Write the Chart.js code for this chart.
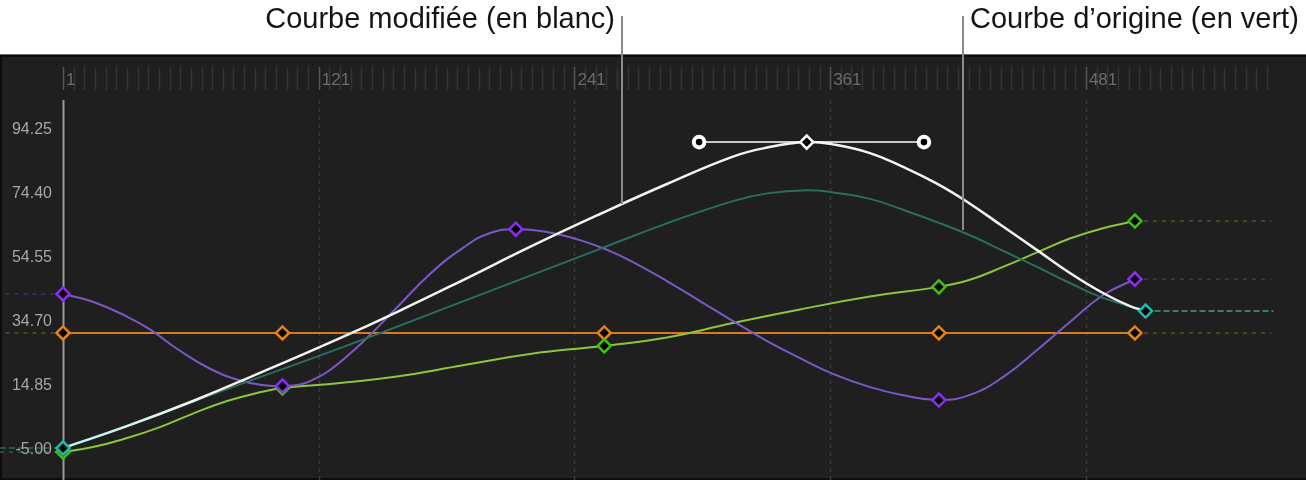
<!DOCTYPE html>
<html>
<head>
<meta charset="utf-8">
<script src="https://cdn.jsdelivr.net/npm/chart.js@4"></script>
<style>
  html, body { margin: 0; padding: 0; background: #fff; }
  canvas { display: block; }
</style>
</head>
<body>
<canvas id="curveChart" width="1306" height="483"></canvas>
<script>
// value axis labels and ruler labels (frames)
const yTickValues = [94.25, 74.40, 54.55, 34.70, 14.85, -5.00];
const rulerLabels = [1, 121, 241, 361, 481];

// keyframes (frame / value)
const orangeKeyFrames = [1, 104, 255, 412, 504];
const orangeKeyValues = [31.3, 31.3, 31.3, 31.3, 31.3];
const purpleKeyFrames = [1, 104, 213.5, 412, 504];
const purpleKeyValues = [43.4, 14.85, 63.5, 10.5, 48.0];
const greenKeyFrames = [1, 104, 255, 412, 504];
const greenKeyValues = [-5.6, 14.2, 27.3, 45.6, 66.0];
const cyanKeyFrames = [1, 509];
const cyanKeyValues = [-4.4, 38.1];
const whiteKeyFrames = [350];
const whiteKeyValues = [90.5];
const handleFrames = [299.5, 405];
const handleValues = [90.5, 90.5];

// curves
const whiteFrames = [1, 31, 62, 93.4, 131, 157.7, 188.7, 220.1, 253, 284.4, 315.4, 331.4, 350,
  362.3, 379.7, 395.2, 411.1, 426.6, 442.1, 458.1, 473.5, 489, 501.7, 509];
const whiteValues = [-4.4, 2.4, 10.2, 18.9, 29.7, 37.8, 47.7, 58.0, 68.2, 77.5, 86.0, 88.8, 90.5,
  89.8, 87.1, 82.8, 77.6, 71.4, 64.3, 57.0, 49.9, 43.7, 39.6, 38.1];

const tealFrames = [1, 46.5, 78, 131, 188.7, 253, 284.4, 315.4, 331.4, 350,
  362.3, 379.7, 395.2, 411.1, 426.6, 442.1, 458.1, 473.5, 489, 509];
const tealValues = [-4.4, 6.2, 13.9, 26.6, 41.1, 57.4, 65.3, 72.2, 74.6, 75.6,
  74.9, 72.9, 69.5, 65.7, 61.6, 56.8, 51.8, 46.8, 42.2, 38.1];

const purpleFrames = [1, 15, 31, 41.8, 54.5, 70, 85.5, 96.7, 104, 112.2, 118.3, 126.3, 141.8, 157.7,
  173.2, 188.7, 201.4, 213.5, 228.1, 243.6, 257.7, 268.5, 284.4, 299.9, 315.4, 331.4, 346.8, 362.3,
  379.7, 395.2, 412, 426.6, 442.1, 458.1, 473.5, 489, 504];
const purpleValues = [43.4, 41.0, 36.4, 32.4, 26.4, 20.2, 16.3, 15.0, 14.85, 15.3, 16.8, 19.8, 28.6, 39.2,
  49.6, 57.7, 62.3, 63.5, 62.6, 60.1, 56.7, 53.3, 47.4, 41.2, 35.0, 28.8, 23.5, 18.6,
  14.5, 12.0, 10.5, 12.1, 17.6, 26.0, 34.7, 43.0, 48.0];

const greenFrames = [1, 15, 31, 46.5, 62, 78, 93.4, 104, 131, 157.7, 188.7, 220.1, 255, 284.4,
  315.4, 346.8, 379.7, 412, 426.6, 442.1, 458.1, 473.5, 489, 504];
const greenValues = [-5.6, -4.1, -1.3, 2.1, 6.3, 10.2, 12.9, 14.2, 15.8, 17.8, 21.3, 24.8, 27.3, 29.9,
  34.4, 38.6, 42.6, 45.6, 47.8, 51.8, 56.3, 60.6, 63.8, 66.0];

// hold lines before the first / after the last keyframe
const holdStart = -26;
const holdEnd = 568;

// layout constants of the editor view
const FRAME1_PX = 63;
const PX_PER_FRAME = 2.131;
const CANVAS_W = 1306;
const PLOT_TOP = 100, PLOT_BOTTOM = 480;
const VAL_AT_450 = -5, PX_PER_UNIT = 3.224;

const xMin = 1 - FRAME1_PX / PX_PER_FRAME;
const xMax = 1 + (CANVAS_W - FRAME1_PX) / PX_PER_FRAME;
const yMax = VAL_AT_450 + (450 - PLOT_TOP) / PX_PER_UNIT;
const yMin = VAL_AT_450 - (PLOT_BOTTOM - 450) / PX_PER_UNIT;

function pts(frames, values) {
  return frames.map((f, i) => ({ x: f, y: values[i] }));
}

function curve(frames, values, color, width, order) {
  return {
    data: pts(frames, values),
    borderColor: color,
    borderWidth: width,
    pointRadius: 0,
    tension: 0.45,
    order: order
  };
}

function keys(frames, values, color, order) {
  return {
    data: pts(frames, values),
    showLine: false,
    pointStyle: 'rectRot',
    pointRadius: 6.5,
    pointBorderWidth: 2.5,
    pointBorderColor: color,
    pointBackgroundColor: '#000',
    order: order
  };
}

function hold(from, to, value, color, dash) {
  return {
    data: [{ x: from, y: value }, { x: to, y: value }],
    borderColor: color,
    borderWidth: 1.5,
    borderDash: dash,
    pointRadius: 0,
    order: 9
  };
}

const last = a => a[a.length - 1];

// white curve is tinted cyan right after the selected first keyframe
function whiteStroke(context) {
  const { chart } = context;
  if (!chart.chartArea) return '#f2f2f2';
  const x = chart.scales.x;
  const x0 = x.getPixelForValue(1), x1 = x.getPixelForValue(60);
  const g = chart.ctx.createLinearGradient(x0, 0, x1, 0);
  g.addColorStop(0, '#b8f4ee');
  g.addColorStop(1, '#f2f2f2');
  return g;
}

const editorPlugin = {
  id: 'editor',
  beforeDraw(chart) {
    const { ctx } = chart;
    ctx.save();
    ctx.fillStyle = '#ffffff';
    ctx.fillRect(0, 0, chart.width, chart.height);
    ctx.fillStyle = '#1f1f1f';
    ctx.fillRect(0, 55, chart.width, 425);
    ctx.fillStyle = '#6a6a6a';
    ctx.fillRect(0, 54, chart.width, 1);
    ctx.fillStyle = '#0c0c0c';
    ctx.fillRect(0, 55, chart.width, 2);
    ctx.fillRect(0, 55, 2, 425);
    ctx.fillRect(0, 478, chart.width, 2);
    ctx.restore();
  },
  beforeDatasetsDraw(chart) {
    const { ctx } = chart;
    const x = chart.scales.x;
    ctx.save();
    // ruler
    for (let f = 1; f <= 566; f += 5) {
      const px = Math.round(x.getPixelForValue(f)) + 0.5;
      const major = (f - 1) % 120 === 0;
      ctx.strokeStyle = major ? '#555555' : '#343434';
      ctx.lineWidth = 1.5;
      ctx.beginPath();
      ctx.moveTo(px, 67);
      ctx.lineTo(px, 90);
      ctx.stroke();
    }
    ctx.fillStyle = '#6c6c6c';
    ctx.font = '17px "Liberation Sans", Arial, sans-serif';
    ctx.textBaseline = 'middle';
    ctx.textAlign = 'left';
    rulerLabels.forEach(f => {
      ctx.fillText(String(f), x.getPixelForValue(f) + 3, 80);
    });
    // dashed frame grid
    ctx.strokeStyle = '#3a3a3a';
    ctx.lineWidth = 1.5;
    ctx.setLineDash([4, 4]);
    rulerLabels.slice(1).forEach(f => {
      const px = Math.round(x.getPixelForValue(f)) + 0.5;
      ctx.beginPath();
      ctx.moveTo(px, PLOT_TOP);
      ctx.lineTo(px, PLOT_BOTTOM);
      ctx.stroke();
    });
    ctx.setLineDash([]);
    // current frame line
    const p1 = Math.round(x.getPixelForValue(1)) + 0.5;
    ctx.strokeStyle = '#9a9a9a';
    ctx.lineWidth = 2;
    ctx.beginPath();
    ctx.moveTo(p1, PLOT_TOP);
    ctx.lineTo(p1, PLOT_BOTTOM);
    ctx.stroke();
    ctx.restore();
  },
  afterDatasetsDraw(chart) {
    const { ctx } = chart;
    const y = chart.scales.y;
    ctx.save();
    ctx.fillStyle = '#a6a6a6';
    ctx.font = '16px "Liberation Sans", Arial, sans-serif';
    ctx.textAlign = 'right';
    ctx.textBaseline = 'middle';
    yTickValues.forEach(v => {
      ctx.fillText(v.toFixed(2), 52, y.getPixelForValue(v));
    });
    ctx.restore();
  },
  afterDraw(chart) {
    const { ctx } = chart;
    ctx.save();
    ctx.strokeStyle = '#8a8a8a';
    ctx.lineWidth = 2;
    ctx.beginPath();
    ctx.moveTo(622, 16);
    ctx.lineTo(622, 204);
    ctx.moveTo(963, 16);
    ctx.lineTo(963, 230);
    ctx.stroke();
    ctx.fillStyle = '#141414';
    ctx.font = '29px "Liberation Sans", Arial, sans-serif';
    ctx.textBaseline = 'alphabetic';
    ctx.textAlign = 'right';
    ctx.fillText('Courbe modifiée (en blanc)', 615, 28);
    ctx.textAlign = 'left';
    ctx.fillText('Courbe d\u2019origine (en vert)', 970, 28);
    ctx.restore();
  }
};

new Chart(document.getElementById('curveChart'), {
  type: 'line',
  data: {
    datasets: [
      keys(whiteKeyFrames, whiteKeyValues, '#ffffff', 0),
      keys(cyanKeyFrames, cyanKeyValues, '#1cbcb0', 0),
      keys(purpleKeyFrames, purpleKeyValues, '#8e2cf5', 0),
      keys(greenKeyFrames, greenKeyValues, '#3fc012', 0),
      keys(orangeKeyFrames, orangeKeyValues, '#e8830f', 0),
      {
        data: pts(handleFrames, handleValues),
        borderColor: '#ffffff',
        borderWidth: 1.5,
        pointStyle: 'circle',
        pointRadius: 5.3,
        pointBorderWidth: 4,
        pointBorderColor: '#ffffff',
        pointBackgroundColor: '#000',
        order: 1
      },
      curve(whiteFrames, whiteValues, whiteStroke, 2.5, 2),
      curve(tealFrames, tealValues, '#2b6e5f', 2, 3),
      curve(purpleFrames, purpleValues, '#7b58c8', 2, 4),
      curve(greenFrames, greenValues, '#8cc63c', 2, 5),
      curve(orangeKeyFrames, orangeKeyValues, '#d8791c', 2, 6),
      hold(holdStart, 1, purpleKeyValues[0], '#3c3470', [4, 5]),
      hold(holdStart, 1, orangeKeyValues[0], '#6a4a22', [4, 5]),
      hold(xMin, 1, cyanKeyValues[0], '#2d6a5c', [6, 3]),
      hold(xMin, 1, greenKeyValues[0], '#3f5a22', [4, 5]),
      hold(last(purpleKeyFrames), holdEnd, last(purpleKeyValues), '#3c3470', [4, 5]),
      hold(last(orangeKeyFrames), holdEnd, last(orangeKeyValues), '#6a4a22', [4, 5]),
      hold(last(greenKeyFrames), holdEnd, last(greenKeyValues), '#4a5a2a', [4, 5]),
      hold(last(cyanKeyFrames), holdEnd + 1, last(cyanKeyValues), '#4a9c90', [6, 3])
    ]
  },
  options: {
    responsive: false,
    animation: false,
    devicePixelRatio: 1,
    layout: {
      autoPadding: false,
      padding: { left: 0, right: 0, top: PLOT_TOP, bottom: 483 - PLOT_BOTTOM }
    },
    plugins: { legend: { display: false }, tooltip: { enabled: false } },
    scales: {
      x: { type: 'linear', display: false, min: xMin, max: xMax },
      y: { type: 'linear', display: false, min: yMin, max: yMax }
    }
  },
  plugins: [editorPlugin]
});
</script>
</body>
</html>
